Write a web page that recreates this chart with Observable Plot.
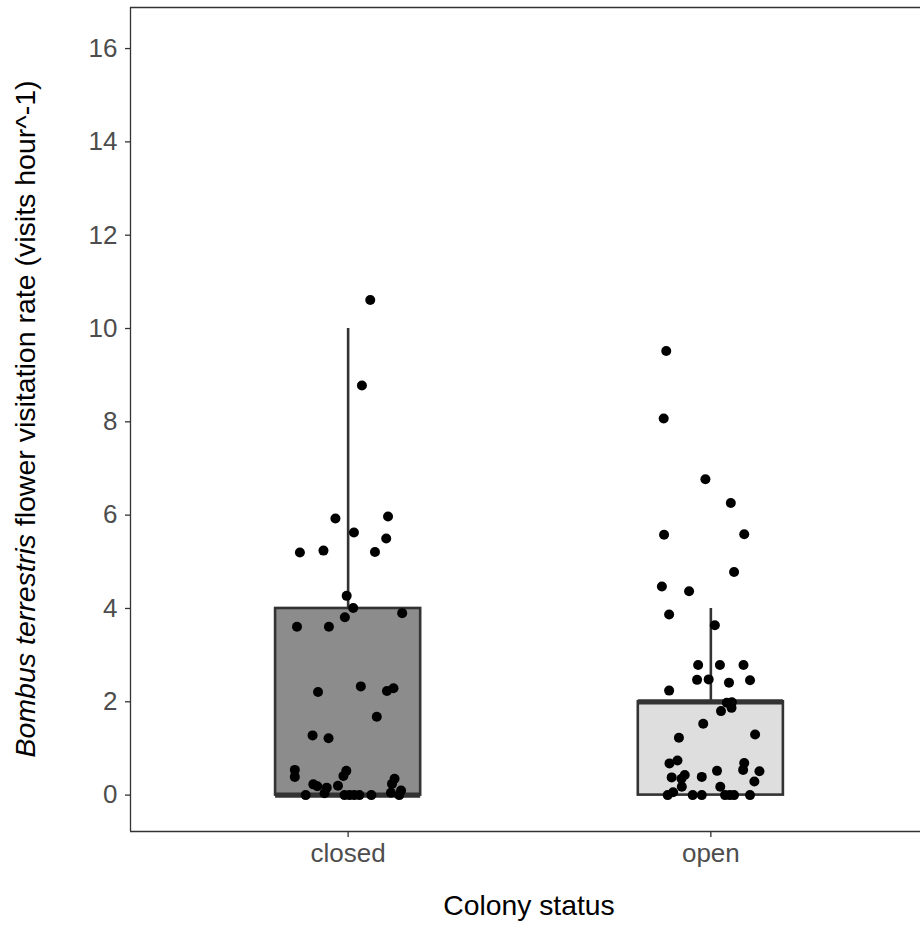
<!DOCTYPE html>
<html>
<head>
<meta charset="utf-8">
<script src="https://cdn.jsdelivr.net/npm/d3@7"></script>
<script src="https://cdn.jsdelivr.net/npm/@observablehq/plot@0.6"></script>
<style>
  body { margin: 0; background: #fff; }
  #chart svg { display: block; }
</style>
</head>
<body>
<div id="chart"></div>
<script>
// Categories and box summaries
const categories = ["closed", "open"];
const boxLower   = [0, 0];
const boxMedian  = [0, 2];
const boxUpper   = [4, 2];
const whiskerHigh = [10, 4];
const boxFill    = ["#8c8c8c", "#dedede"];

// Jittered observations: value and horizontal jitter (category units)
const closedValues = [10.61, 8.78, 5.93, 5.97, 5.63, 5.50, 5.20, 5.24, 5.21, 4.27, 4.01, 3.90, 3.81, 3.61, 3.61,
  2.33, 2.23, 2.29, 2.21, 1.68, 1.28, 1.22, 0.54, 0.39, 0.52, 0.41, 0.35, 0.24, 0.23, 0.19, 0.16, 0.04, 0.20,
  0, 0, 0, 0, 0, 0, 0.05, 0.10, 0];
const closedJitter = [0.061, 0.038, -0.035, 0.110, 0.016, 0.105, -0.133, -0.068, 0.074, -0.004, 0.014, 0.149, -0.009, -0.141, -0.053,
  0.035, 0.107, 0.125, -0.083, 0.079, -0.098, -0.054, -0.147, -0.147, -0.005, -0.013, 0.128, 0.121, -0.096, -0.085, -0.059, -0.065, -0.028,
  -0.117, -0.010, 0.004, 0.017, 0.031, 0.064, 0.118, 0.146, 0.141];

const openValues = [9.52, 8.07, 6.77, 6.26, 5.58, 5.59, 4.78, 4.47, 4.37, 3.87, 3.64, 2.79, 2.79, 2.79, 2.47, 2.48, 2.41, 2.46,
  2.24, 1.98, 1.99, 1.87, 1.80, 1.53, 1.30, 1.23, 0.68, 0.74, 0.69, 0.54, 0.51, 0.52, 0.38, 0.43, 0.35, 0.39, 0.29,
  0.18, 0.18, 0.06, 0, 0, 0, 0, 0, 0, 0];
const openJitter = [-0.123, -0.130, -0.015, 0.055, -0.129, 0.092, 0.064, -0.135, -0.060, -0.115, 0.011, -0.035, 0.025, 0.090, -0.038, -0.006, 0.050, 0.108,
  -0.115, 0.044, 0.058, 0.057, 0.028, -0.021, 0.122, -0.088, -0.114, -0.092, 0.092, 0.089, 0.134, 0.017, -0.108, -0.072, -0.081, -0.025, 0.120,
  -0.080, 0.026, -0.104, -0.119, -0.050, -0.025, 0.039, 0.052, 0.064, 0.108];

const yTicks = [0, 2, 4, 6, 8, 10, 12, 14, 16];
const xTitle = "Colony status";
const yTitleItalic = "Bombus terrestris";
const yTitleRest = " flower visitation rate (visits hour^-1)";

// Build tables
const boxes = categories.map((c, i) => ({
  cat: c, pos: i + 1, lo: boxLower[i], med: boxMedian[i], hi: boxUpper[i], wh: whiskerHigh[i], fill: boxFill[i]
}));
const points = [
  ...closedValues.map((v, i) => ({pos: 1 + closedJitter[i], v})),
  ...openValues.map((v, i) => ({pos: 2 + openJitter[i], v}))
];

const halfW = 0.2;
const yDom = [-0.78, 16.88];
const xDom = [0.4, 2.578];
const font = "'Liberation Sans', Arial, sans-serif";
const dark = "#333333";

const plot = Plot.plot({
  width: 920,
  height: 926,
  marginLeft: 130,
  marginRight: 0,
  marginTop: 7,
  marginBottom: 95,
  style: {fontFamily: font, background: "#fff"},
  x: {type: "linear", domain: xDom, axis: null},
  y: {domain: yDom, axis: null},
  marks: [
    // panel border (left, top, bottom)
    Plot.ruleY([yDom[1], yDom[0]], {stroke: dark, strokeWidth: 1.3}),
    Plot.ruleX([xDom[0]], {stroke: dark, strokeWidth: 1.3}),
    // whiskers
    Plot.ruleX(boxes, {x: "pos", y1: "hi", y2: "wh", stroke: dark, strokeWidth: 2.6}),
    // boxes
    Plot.rect(boxes, {x1: d => d.pos - halfW, x2: d => d.pos + halfW, y1: "lo", y2: "hi", fill: "fill", stroke: dark, strokeWidth: 2.6}),
    // medians
    Plot.ruleY(boxes, {y: "med", x1: d => d.pos - halfW, x2: d => d.pos + halfW, stroke: dark, strokeWidth: 5.2}),
    // points
    Plot.dot(points, {x: "pos", y: "v", r: 5, fill: "#000", stroke: null}),
    // axes
    Plot.axisY({ticks: yTicks, tickSize: 5, tickPadding: 8, fontSize: 26, label: null, stroke: dark, fill: "#4d4d4d"}),
    Plot.axisX({ticks: [1, 2], tickFormat: d => categories[d - 1], tickSize: 6, tickPadding: 6, fontSize: 26, label: null, stroke: dark, fill: "#4d4d4d"})
  ]
});

const svg = d3.select(plot);
svg.selectAll('g[aria-label="y-axis tick label"] text, g[aria-label="x-axis tick label"] text').attr("fill", "#4d4d4d");
svg.selectAll('g[aria-label="y-axis tick"] path, g[aria-label="x-axis tick"] path').attr("stroke", dark).attr("stroke-width", 1.3);

const xs = plot.scale("x"), ys = plot.scale("y");
const cx = (xs.apply(xDom[0]) + xs.apply(2.6)) / 2;
const cy = (ys.apply(yDom[0]) + ys.apply(yDom[1])) / 2;

svg.append("text")
  .attr("x", cx).attr("y", 915)
  .attr("text-anchor", "middle")
  .attr("font-family", font).attr("font-size", 28.3).attr("fill", "#000")
  .text(xTitle);

const yt = svg.append("text")
  .attr("transform", `translate(35,${cy}) rotate(-90)`)
  .attr("text-anchor", "middle")
  .attr("font-family", font).attr("font-size", 28.5).attr("fill", "#000");
yt.append("tspan").attr("font-style", "italic").text(yTitleItalic);
yt.append("tspan").text(yTitleRest);

document.getElementById("chart").appendChild(plot);
</script>
</body>
</html>
